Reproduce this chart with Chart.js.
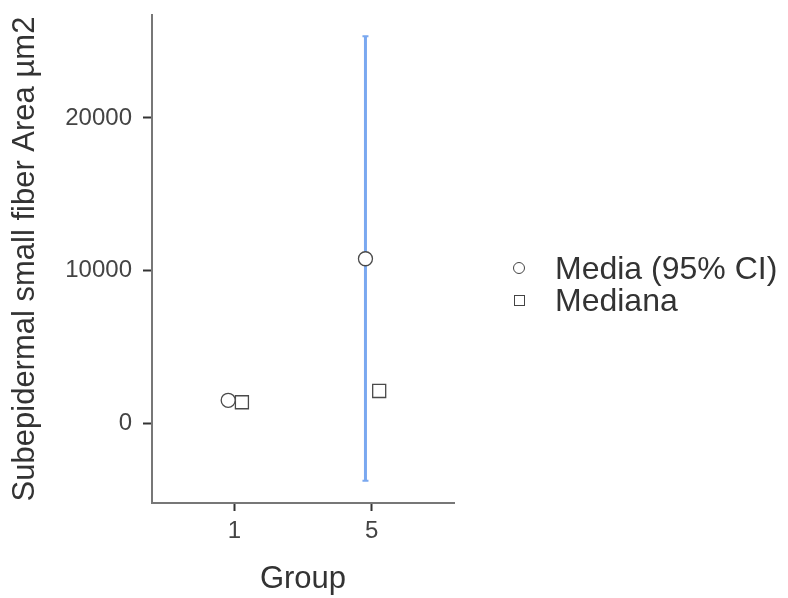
<!DOCTYPE html>
<html>
<head>
<meta charset="utf-8">
<script src="https://cdn.jsdelivr.net/npm/chart.js@4.4.0/dist/chart.umd.min.js"></script>
<style>
  html, body { margin: 0; padding: 0; background: #fff; }
  #wrap { position: relative; width: 788px; height: 598px; }
  #legend { position: absolute; left: 513px; top: 252px; font-family: "Liberation Sans", Arial, sans-serif; font-size: 32px; color: #333; }
  .item { display: flex; align-items: center; height: 32px; white-space: nowrap; }
  .sym { display: inline-block; width: 12px; height: 12px; margin-right: 30px; box-sizing: border-box; border: 1.3px solid #444; }
  .circ { border-radius: 50%; }
  .sq { width: 11px; height: 11px; margin-left: 1px; margin-right: 30px; }
</style>
</head>
<body>
<div id="wrap">
  <canvas id="c" width="788" height="598"></canvas>
  <div id="legend">
    <div class="item"><span class="sym circ"></span><span>Media (95% CI)</span></div>
    <div class="item"><span class="sym sq"></span><span>Mediana</span></div>
  </div>
</div>
<script>
const groups = ['1', '5'];
const meanValues = [1490, 10770];
const ciLower = [1250, -3790];
const ciUpper = [1750, 25360];
const medianValues = [1360, 2100];
const yTicks = [0, 10000, 20000];

const meanOffset = -0.045;
const medianOffset = 0.055;

const meanPoints = groups.map((g, i) => ({ x: i + 1 + meanOffset, y: meanValues[i] }));
const medianPoints = groups.map((g, i) => ({ x: i + 1 + medianOffset, y: medianValues[i] }));

const errorBars = {
  id: 'errorBars',
  beforeDatasetsDraw(chart) {
    const { ctx, scales: { x, y } } = chart;
    ctx.save();
    ctx.strokeStyle = '#7aa8f0';
    groups.forEach((g, i) => {
      const px = x.getPixelForValue(i + 1 + meanOffset);
      const top = y.getPixelForValue(ciUpper[i]);
      const bot = y.getPixelForValue(ciLower[i]);
      ctx.lineWidth = 3;
      ctx.beginPath();
      ctx.moveTo(px, top);
      ctx.lineTo(px, bot);
      ctx.stroke();
      ctx.lineWidth = 2;
      ctx.beginPath();
      ctx.moveTo(px - 3, top); ctx.lineTo(px + 3, top);
      ctx.moveTo(px - 3, bot); ctx.lineTo(px + 3, bot);
      ctx.stroke();
    });
    ctx.restore();
  }
};

Chart.defaults.font.family = '"Liberation Sans", Arial, sans-serif';

new Chart(document.getElementById('c'), {
  type: 'scatter',
  data: {
    datasets: [
      {
        label: 'Media (95% CI)',
        data: meanPoints,
        pointStyle: 'circle',
        pointRadius: 7,
        pointHoverRadius: 7,
        backgroundColor: '#ffffff',
        borderColor: '#4a4a4a',
        borderWidth: 1.3
      },
      {
        label: 'Mediana',
        data: medianPoints,
        pointStyle: 'rect',
        pointRadius: 9.2,
        pointHoverRadius: 9.2,
        backgroundColor: '#ffffff',
        borderColor: '#4a4a4a',
        borderWidth: 1.3
      }
    ]
  },
  options: {
    responsive: false,
    animation: false,
    events: [],
    layout: { padding: { top: 15, right: 334, left: 0, bottom: 0 } },
    plugins: { legend: { display: false }, tooltip: { enabled: false } },
    scales: {
      x: {
        type: 'linear',
        min: 0.4,
        max: 2.6,
        afterBuildTicks(axis) { axis.ticks = groups.map((g, i) => ({ value: i + 1 })); },
        afterFit(scale) { scale.height = 95; scale.paddingLeft = 0; scale.paddingRight = 0; },
        ticks: {
          callback: (v) => groups[v - 1],
          color: '#444',
          font: { size: 24 },
          padding: 6,
          maxRotation: 0
        },
        grid: { drawOnChartArea: false, drawTicks: true, tickLength: 8, tickWidth: 2, tickColor: '#333' },
        border: { display: true, color: '#777', width: 2 },
        title: { display: true, text: 'Group', color: '#333', font: { size: 31 }, padding: { top: 0, bottom: 0 } }
      },
      y: {
        type: 'linear',
        min: -5245,
        max: 26750,
        afterBuildTicks(axis) { axis.ticks = yTicks.map(v => ({ value: v })); },
        afterFit(scale) { scale.width = 152; scale.paddingTop = 0; scale.paddingBottom = 0; },
        ticks: { color: '#444', font: { size: 24 }, padding: 11, callback: (v) => String(v) },
        grid: { drawOnChartArea: false, drawTicks: true, tickLength: 9, tickWidth: 2, tickColor: '#333' },
        border: { display: true, color: '#777', width: 2 },
        title: { display: true, text: 'Subepidermal small fiber Area µm2', color: '#333', font: { size: 31 }, padding: { top: 7, bottom: 0 } }
      }
    }
  },
  plugins: [errorBars]
});
</script>
</body>
</html>
